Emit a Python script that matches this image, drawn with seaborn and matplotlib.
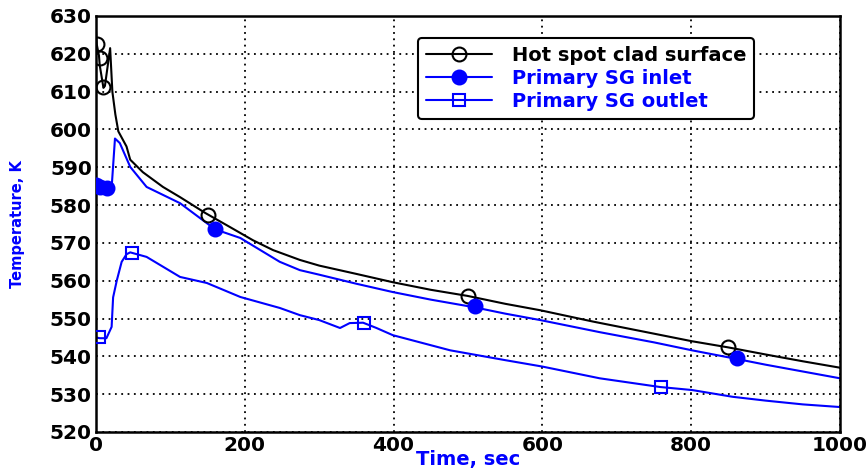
import matplotlib
matplotlib.use("Agg")
import matplotlib.pyplot as plt
from matplotlib.lines import Line2D
from matplotlib.ticker import MultipleLocator
import seaborn as sns
import pandas as pd

# Hot spot clad surface temperature
clad_t = [0, 1, 4, 5, 10, 12, 19, 22, 26, 30, 41, 46, 63, 90, 113, 147, 180, 211, 238,
          274, 300, 350, 399, 450, 499, 550, 597, 668, 750, 801, 849, 900, 950, 1000]
clad_T = [626, 622.5, 619.5, 617, 611, 611.5, 621.5, 610, 604, 599.5, 595.5, 592, 588.7,
          584.8, 582.1, 577.9, 574.2, 570.7, 568.1, 565.5, 564.0, 561.8, 559.6, 557.6,
          556.0, 553.9, 552.2, 549.2, 546.0, 544.0, 542.4, 540.5, 538.7, 537.0]
clad_mark_t = [1, 5, 10, 150, 500, 850]
clad_mark_T = [622.5, 619.0, 611.3, 577.5, 556.0, 542.5]

# Primary SG inlet temperature
inlet_t = [0, 5, 10, 18, 21, 25.5, 32, 46, 68, 113, 160, 194, 247, 274, 300, 350, 399,
           450, 508, 550, 597, 677, 750, 801, 859, 900, 950, 1000]
inlet_T = [585.5, 585.0, 584.7, 584.4, 584.6, 597.6, 596.4, 590.1, 584.8, 580.5, 573.6,
           571.3, 565.0, 562.8, 561.6, 559.2, 557.0, 555.0, 553.0, 551.3, 549.6, 546.4,
           543.7, 541.6, 539.4, 537.8, 536.0, 534.2]
inlet_mark_t = [0, 5, 15, 160, 510, 862]
inlet_mark_T = [585.3, 584.9, 584.5, 573.8, 553.4, 539.6]

# Primary SG outlet temperature
outlet_t = [0, 5, 14, 21, 23, 28, 34.5, 41, 46, 68, 113, 149, 194, 247, 274, 300, 328,
            341, 359, 377, 399, 476, 550, 600, 677, 758, 801, 856, 900, 950, 1000]
outlet_T = [545.0, 544.8, 544.8, 547.8, 555.6, 560.1, 565.0, 567.0, 567.5, 566.3, 561.0,
            559.4, 555.7, 552.8, 550.9, 549.6, 547.5, 548.8, 548.9, 547.5, 545.6, 541.6,
            539.0, 537.3, 534.2, 531.9, 531.1, 529.3, 528.3, 527.3, 526.6]
outlet_mark_t = [4, 48, 360, 760]
outlet_mark_T = [545.0, 567.4, 548.9, 532.0]

x_ticks = [0, 200, 400, 600, 800, 1000]
y_ticks = [520, 530, 540, 550, 560, 570, 580, 590, 600, 610, 620, 630]

labels = ["Hot spot clad surface", "Primary SG inlet", "Primary SG outlet"]
BLUE = "#0000ff"

sns.set_style("white")
plt.rcParams["font.family"] = ["DejaVu Sans"]

fig = plt.figure(figsize=(8.68, 4.72), dpi=100)
ax = fig.add_axes([96 / 868, 1 - 432 / 472, 744 / 868, 416 / 472])

series = [
    (clad_t, clad_T, clad_mark_t, clad_mark_T, "black", "o", "none", 10),
    (inlet_t, inlet_T, inlet_mark_t, inlet_mark_T, BLUE, "o", BLUE, 10),
    (outlet_t, outlet_T, outlet_mark_t, outlet_mark_T, BLUE, "s", "none", 8),
]

handles = []
for t, T, mt, mT, c, m, fc, ms in series:
    df = pd.DataFrame({"t": t, "T": T})
    sns.lineplot(data=df, x="t", y="T", color=c, lw=1.5, ax=ax, sort=False,
                 estimator=None)
    ax.plot(mt, mT, ls="none", marker=m, ms=ms, mfc=fc, mec=c, mew=1.5, zorder=5)
    handles.append(Line2D([], [], color=c, lw=1.5, marker=m, ms=ms, mfc=fc,
                          mec=c, mew=1.5))

ax.set_xlim(0, 1000)
ax.set_ylim(520, 630)
ax.set_xticks(x_ticks)
ax.set_yticks(y_ticks)
ax.xaxis.set_minor_locator(MultipleLocator(50))
ax.yaxis.set_minor_locator(MultipleLocator(5))
ax.tick_params(which="both", direction="in", color="black", width=1.5,
               labelcolor="black")
ax.tick_params(which="major", length=7, labelsize=14.5, pad=3)
ax.tick_params(which="minor", length=6)
for lab in ax.get_xticklabels() + ax.get_yticklabels():
    lab.set_fontweight("bold")

ax.grid(True, which="major", ls=(0, (1, 2.5)), color="black", lw=1.3)
for s in ax.spines.values():
    s.set_visible(True)
    s.set_color("black")
    s.set_linewidth(1.8)

ax.set_xlabel("Time, sec", color=BLUE, fontsize=14, fontweight="bold", labelpad=-4)
ax.set_ylabel("Temperature, K", color=BLUE, fontsize=10.5, fontweight="bold",
              labelpad=18)

leg = ax.legend(handles, labels, loc="upper left", bbox_to_anchor=(0.42, 0.97),
                frameon=True, fancybox=True, handlelength=3.4,
                borderpad=0.4, labelspacing=0.2, handletextpad=1.0,
                prop={"weight": "bold", "size": 14})
leg.get_frame().set_edgecolor("black")
leg.get_frame().set_linewidth(1.5)
leg.get_frame().set_alpha(1)
for txt, c in zip(leg.get_texts(), ["black", BLUE, BLUE]):
    txt.set_color(c)

fig.savefig("out.png", dpi=100)
